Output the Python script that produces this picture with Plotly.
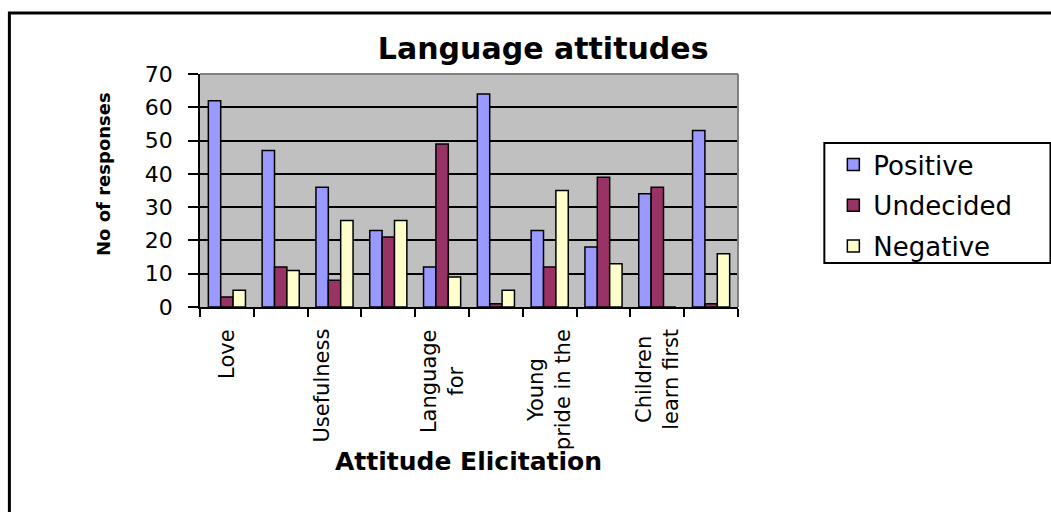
import plotly.graph_objects as go

# Survey responses per attitude item (10 items, labels shown on every other item)
item_index = [1, 2, 3, 4, 5, 6, 7, 8, 9, 10]
positive = [62, 47, 36, 23, 12, 64, 23, 18, 34, 53]
undecided = [3, 12, 8, 21, 49, 1, 12, 39, 36, 1]
negative = [5, 11, 26, 26, 9, 5, 35, 13, 0, 16]

label_positions = [1, 3, 5, 7, 9]
label_texts = ["Love", "Usefulness<br> ", "Language<br>for", "Young<br>pride in the", "Children<br>learn first"]

y_ticks = [0, 10, 20, 30, 40, 50, 60, 70]

FONT = "DejaVu Sans"
W, H = 1051, 512
# plot-area edges in pixels
PL, PR, PT, PB = 200, 737.7, 74, 307


def px_x(x):
    return (x - PL) / (PR - PL)


def px_y(y):
    return (PB - y) / (PB - PT)


series = [
    ("Positive", positive, "#9999FF"),
    ("Undecided", undecided, "#993366"),
    ("Negative", negative, "#FFFFCC"),
]

fig = go.Figure()
for name, vals, col in series:
    fig.add_trace(go.Bar(
        x=item_index, y=vals, name=name, legendgroup=name,
        marker=dict(color=col, line=dict(color="black", width=1.5)),
    ))

fig.update_layout(
    width=W, height=H,
    margin=dict(l=PL, r=W - PR, t=PT, b=H - PB),
    paper_bgcolor="white",
    plot_bgcolor="#C0C0C0",
    barmode="group", bargap=0.31, bargroupgap=0,
    font=dict(family=FONT, color="black"),
    title=dict(
        text="Language attitudes", xref="paper", x=px_x(543), xanchor="center",
        yref="container", y=1 - 48 / H, yanchor="middle",
        font=dict(family=FONT, size=30, weight="bold", color="black"),
    ),
    legend=dict(
        x=px_x(833), xanchor="left", y=px_y(141), yanchor="top",
        font=dict(family=FONT, size=26, color="black"),
        bgcolor="rgba(0,0,0,0)", borderwidth=0,
        traceorder="grouped", tracegroupgap=4,
    ),
    showlegend=True,
)

fig.update_xaxes(
    range=[0.5, 10.5], tickmode="array", tickvals=[i + 0.5 for i in range(0, 11)],
    ticks="outside", ticklen=8, tickwidth=1.5, tickcolor="black",
    showticklabels=False, showgrid=False, zeroline=False,
    showline=True, linecolor="black", linewidth=1.5,
)
fig.update_yaxes(
    range=[0, 70], tickmode="array", tickvals=y_ticks,
    ticks="outside", ticklen=10, tickwidth=1.5, tickcolor="black",
    ticklabelstandoff=11,
    tickfont=dict(family=FONT, size=22, color="black"),
    showgrid=True, gridcolor="black", gridwidth=1.5,
    zeroline=False, showline=True, linecolor="black", linewidth=1.5,
)

# category labels under the axis, lines centred on each other
for pos, txt in zip(label_positions, label_texts):
    fig.add_annotation(
        x=pos, xref="x", y=px_y(327), yref="paper",
        text=txt, textangle=-90, showarrow=False,
        xanchor="center", yanchor="top", align="center",
        font=dict(family=FONT, size=21, color="black"),
    )

# axis titles
fig.add_annotation(
    x=px_x(103), xref="paper", y=px_y(174), yref="paper",
    text="No of responses", textangle=-90, showarrow=False,
    xanchor="center", yanchor="middle",
    font=dict(family=FONT, size=18, weight="bold", color="black"),
)
fig.add_annotation(
    x=px_x(468), xref="paper", y=px_y(461), yref="paper",
    text="Attitude Elicitation", showarrow=False,
    xanchor="center", yanchor="middle",
    font=dict(family=FONT, size=25, weight="bold", color="black"),
)

shapes = [
    # grey top and right plot-area edges
    dict(type="line", xref="paper", yref="paper", x0=0, x1=1, y0=1, y1=1,
         line=dict(color="#808080", width=2)),
    dict(type="line", xref="paper", yref="paper", x0=1, x1=1, y0=0, y1=1,
         line=dict(color="#808080", width=2)),
    # legend frame
    dict(type="rect", xref="paper", yref="paper",
         x0=px_x(824), x1=px_x(1050), y0=px_y(263), y1=px_y(143),
         line=dict(color="black", width=2), fillcolor="rgba(0,0,0,0)"),
    # chart frame
    dict(type="rect", xref="paper", yref="paper",
         x0=px_x(9.5), x1=px_x(1070), y0=px_y(530), y1=px_y(13),
         line=dict(color="black", width=3), fillcolor="rgba(0,0,0,0)"),
]
fig.update_layout(shapes=shapes)

fig.write_html("out.html")
